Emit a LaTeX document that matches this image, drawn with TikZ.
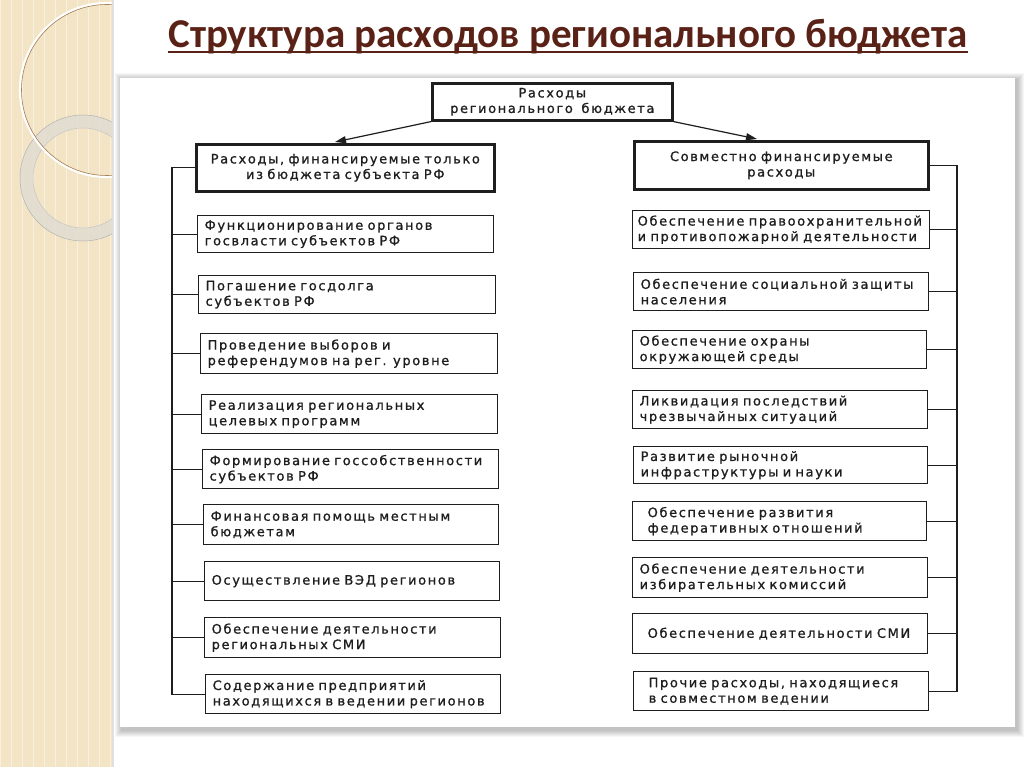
\documentclass[tikz,border=0pt]{standalone}
\usepackage{fontspec}
\setmainfont{DejaVu Sans}
\newfontfamily\titlefont{Carlito}
\newfontfamily\boxfont{DejaVu Sans}[LetterSpace=12.5,FakeBold=1]
\usetikzlibrary{arrows.meta}
\definecolor{strip}{HTML}{F2E4C4}
\definecolor{ringc}{HTML}{E2DDD2}
\definecolor{titlec}{HTML}{5A2216}
\definecolor{ink}{HTML}{1E1E1E}
\tikzset{
  itembox/.style={draw=ink, line width=1.3pt, inner xsep=7pt, inner ysep=1pt,
    align=left, font=\boxfont\fontsize{13}{15.5}\selectfont, text=ink, anchor=north west},
  headbox/.style={itembox, line width=2.6pt, align=center},
  link/.style={draw=ink, line width=1.2pt},
  arr/.style={link, -{Triangle[length=11pt,width=7pt]}},
}
\newcommand\bx[7][itembox]{%
  \pgfmathsetmacro\tw{#5-14}%
  \node[#1, minimum width=#5pt, minimum height=#6pt, text width=\tw pt] (#2) at (#3,#4) {#7};}
\begin{document}
\begin{tikzpicture}[x=1pt,y=-1pt]
\useasboundingbox (0,0) rectangle (1024,767);
\fill[white] (0,0) rectangle (1024,767);
% decorative strip
\fill[strip] (0,0) rectangle (112,767);
\draw[white, opacity=0.45, line width=0.6pt, step=11] (0,0) grid (112,767);
\begin{scope}
  \clip (0,0) rectangle (112,767);
  \draw[ringc, line width=13pt, opacity=0.9] (83,178) circle (56.5);
  \draw[gray!60, line width=0.5pt] (83,178) circle (63);
  \draw[gray!45, line width=0.5pt] (83,178) circle (50);
  \draw[white, line width=2.2pt] (107,90) circle (87);
  \draw[brown!60!gray, line width=0.6pt] (107,90) circle (85.5);
\end{scope}
\draw[black!12, line width=2pt] (113,0) -- (113,767);
% panel with shadow
\foreach \d in {1,...,7}{
  \fill[black, opacity=0.035] (120-\d+2,78-\d+2) rectangle (1015+\d+2,727+\d+3);
}
\fill[white] (120,78) rectangle (1015,727);
% title
\node[font=\titlefont\bfseries\fontsize{41}{48}\selectfont, text=titlec, anchor=base, inner sep=0pt]
  (title) at (568,48) {Структура расходов регионального бюджета};
\draw[titlec, line width=2.4pt] ([yshift=-4pt]title.base west) -- ([yshift=-4pt]title.base east);
% top and headers
\bx[headbox]{top}{431}{82}{240}{37}{Расходы\\регионального\ \ бюджета}
\bx[headbox]{lh}{195}{143}{298}{47}{Расходы, финансируемые только\\из бюджета субъекта РФ}
\bx[headbox]{rh}{633}{140}{294}{48}{Совместно финансируемые\\расходы}
% left items
\bx{l1}{197}{215}{296}{37}{Функционирование органов\\госвласти субъектов РФ}
\bx{l2}{198}{275}{297}{38}{Погашение госдолга\\субъектов РФ}
\bx{l3}{200}{333}{297}{40}{Проведение выборов и\\референдумов на рег. уровне}
\bx{l4}{201}{394}{296}{39}{Реализация региональных\\целевых программ}
\bx{l5}{202}{449}{296}{39}{Формирование госсобственности\\субъектов РФ}
\bx{l6}{203}{504}{295}{40}{Финансовая помощь местным\\бюджетам}
\bx{l7}{204}{561}{295}{39}{Осуществление ВЭД регионов}
\bx{l8}{204}{617}{296}{40}{Обеспечение деятельности\\региональных СМИ}
\bx{l9}{205}{674}{295}{39}{Содержание предприятий\\находящихся~в~ведении~регионов}
% right items
\bx{r1}{632}{210}{297}{38}{\hspace*{-2pt}Обеспечение~правоохранительной\\\hspace*{-2pt}и~противопожарной~деятельности}
\bx{r2}{633}{272}{295}{38}{Обеспечение~социальной~защиты\\населения}
\bx{r3}{632}{330}{294}{38}{Обеспечение охраны\\окружающей среды}
\bx{r4}{632}{390}{295}{38}{Ликвидация последствий\\чрезвычайных ситуаций}
\bx{r5}{633}{446}{294}{37}{Развитие рыночной\\инфраструктуры и науки}
\bx{r6}{632}{501}{294}{39}{\hspace*{8pt}Обеспечение развития\\\hspace*{8pt}федеративных отношений}
\bx{r7}{632}{557}{295}{40}{Обеспечение деятельности\\избирательных комиссий}
\bx{r8}{632}{613}{295}{40}{\hspace*{8pt}Обеспечение деятельности СМИ\\[8pt]}
\bx{r9}{633}{671}{295}{39}{\hspace*{8pt}Прочие расходы, находящиеся\\\hspace*{8pt}в совместном ведении}
% arrows
\coordinate (la) at (335,142);
\coordinate (ra) at (757,139);
\draw[arr] (top.south west) -- (la);
\draw[arr] (top.south east) -- (ra);
% left bus
\coordinate (lbus) at (172,0);
\draw[link] (lh.west) -- (lh.west -| lbus) -- (l9.west -| lbus) -- (l9.west);
\foreach \n in {l1,l2,l3,l4,l5,l6,l7,l8}{
  \draw[link] (\n.west) -- (\n.west -| lbus);
}
% right bus
\coordinate (rbus) at (957,0);
\draw[link] (rh.east) -- (rh.east -| rbus) -- (r9.east -| rbus) -- (r9.east);
\foreach \n in {r1,r2,r3,r4,r5,r6,r7,r8}{
  \draw[link] (\n.east) -- (\n.east -| rbus);
}
\end{tikzpicture}
\end{document}
